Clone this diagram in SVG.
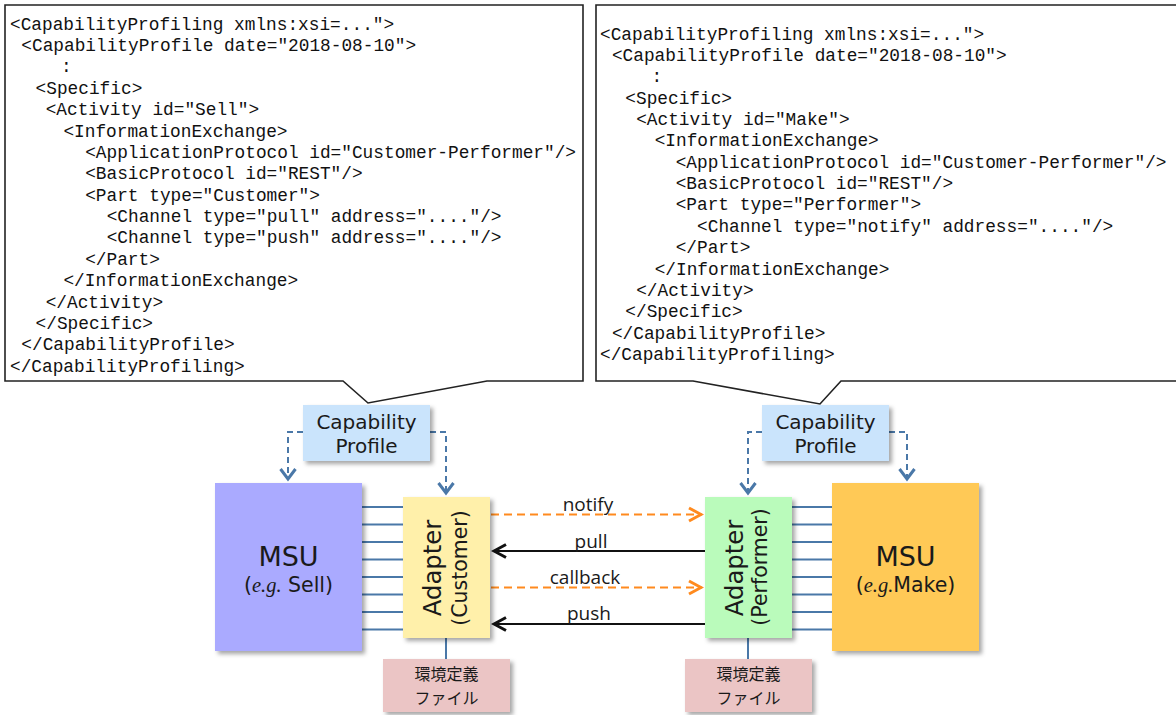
<svg xmlns="http://www.w3.org/2000/svg" width="1176" height="715" viewBox="0 0 1176 715">
<style>
.code{font-family:"Liberation Mono","Courier New",monospace;font-size:17.8px;fill:#111;}
.callout{fill:#fff;stroke:#222;stroke-width:1.6;}
.sans{font-family:"DejaVu Sans",Verdana,sans-serif;fill:#1a1a1a;}
.lbl{font-family:"Open Sans","Liberation Sans",sans-serif;font-size:19px;fill:#1a1a1a;text-anchor:middle;}
.eg{font-family:"Liberation Serif","Times New Roman",serif;font-style:italic;}
.cjk{font-family:"Noto Sans CJK JP","Noto Sans CJK SC",sans-serif;font-size:16px;fill:#1a1a1a;text-anchor:middle;}
.tie{stroke:#4A78A8;stroke-width:2;}
.dashb{fill:none;stroke:#4A78A8;stroke-width:2;stroke-dasharray:6,4;}
.dasho{fill:none;stroke:#FF8A1E;stroke-width:2;stroke-dasharray:8,5;}
.solid{fill:none;stroke:#111;stroke-width:2;}
</style>
<defs>
<filter id="sh" x="-10%" y="-10%" width="130%" height="130%">
<feDropShadow dx="3" dy="3" stdDeviation="2" flood-color="#000" flood-opacity="0.35"/>
</filter>
<marker id="mb" markerUnits="userSpaceOnUse" viewBox="-14 -10 16 20" refX="0" refY="0" markerWidth="16" markerHeight="20" orient="auto">
<path d="M-11,-7.5 L-1,0 L-11,7.5" fill="none" stroke="#4A78A8" stroke-width="3"/>
</marker>
<marker id="mo" markerUnits="userSpaceOnUse" viewBox="-16 -10 18 20" refX="0" refY="0" markerWidth="18" markerHeight="20" orient="auto">
<path d="M-13,-6.5 L-1,0 L-13,6.5" fill="none" stroke="#FF8A1E" stroke-width="3"/>
</marker>
<marker id="mk" markerUnits="userSpaceOnUse" viewBox="-16 -10 18 20" refX="0" refY="0" markerWidth="18" markerHeight="20" orient="auto">
<path d="M-13,-6.5 L-1,0 L-13,6.5" fill="none" stroke="#111" stroke-width="3"/>
</marker>
</defs>
<rect width="1176" height="715" fill="#fff"/>

<g id="callout-sell">
<path class="callout" d="M5,5 H583 V381 H487 L368,403 L343,381 H5 Z"/>
<text class="code" x="10" y="29.5">&lt;CapabilityProfiling xmlns:xsi=..."&gt;</text>
<text class="code" x="21.3" y="50.9">&lt;CapabilityProfile date="2018-08-10"&gt;</text>
<text class="code" x="61" y="72.3">:</text>
<text class="code" x="35.6" y="93.7">&lt;Specific&gt;</text>
<text class="code" x="45.7" y="115.1">&lt;Activity id="Sell"&gt;</text>
<text class="code" x="63.4" y="136.5">&lt;InformationExchange&gt;</text>
<text class="code" x="85.2" y="157.8">&lt;ApplicationProtocol id="Customer-Performer"/&gt;</text>
<text class="code" x="85.2" y="179.2">&lt;BasicProtocol id="REST"/&gt;</text>
<text class="code" x="85.2" y="200.6">&lt;Part type="Customer"&gt;</text>
<text class="code" x="106.7" y="222">&lt;Channel type="pull" address="...."/&gt;</text>
<text class="code" x="106.7" y="243.4">&lt;Channel type="push" address="...."/&gt;</text>
<text class="code" x="85.2" y="264.8">&lt;/Part&gt;</text>
<text class="code" x="63.4" y="286.2">&lt;/InformationExchange&gt;</text>
<text class="code" x="45.7" y="307.6">&lt;/Activity&gt;</text>
<text class="code" x="35.6" y="329">&lt;/Specific&gt;</text>
<text class="code" x="21.3" y="350.4">&lt;/CapabilityProfile&gt;</text>
<text class="code" x="10" y="371.8">&lt;/CapabilityProfiling&gt;</text>
</g>

<g id="callout-make">
<path class="callout" d="M596,5 H1182 V381 H841 L820,404 L693,381 H596 Z"/>
<text class="code" x="600" y="39.5">&lt;CapabilityProfiling xmlns:xsi=..."&gt;</text>
<text class="code" x="611.9" y="60.9">&lt;CapabilityProfile date="2018-08-10"&gt;</text>
<text class="code" x="651.5" y="82.2">:</text>
<text class="code" x="625.3" y="103.6">&lt;Specific&gt;</text>
<text class="code" x="636.2" y="125">&lt;Activity id="Make"&gt;</text>
<text class="code" x="654.7" y="146.3">&lt;InformationExchange&gt;</text>
<text class="code" x="675.7" y="167.7">&lt;ApplicationProtocol id="Customer-Performer"/&gt;</text>
<text class="code" x="675.7" y="189.1">&lt;BasicProtocol id="REST"/&gt;</text>
<text class="code" x="675.7" y="210.4">&lt;Part type="Performer"&gt;</text>
<text class="code" x="697.1" y="231.8">&lt;Channel type="notify" address="...."/&gt;</text>
<text class="code" x="675.7" y="253.2">&lt;/Part&gt;</text>
<text class="code" x="654.7" y="274.5">&lt;/InformationExchange&gt;</text>
<text class="code" x="636.2" y="295.9">&lt;/Activity&gt;</text>
<text class="code" x="625.3" y="317.3">&lt;/Specific&gt;</text>
<text class="code" x="611.9" y="338.6">&lt;/CapabilityProfile&gt;</text>
<text class="code" x="600" y="360">&lt;/CapabilityProfiling&gt;</text>
</g>

<g id="connectors">
<path class="dashb" d="M303,432 H288 V480" marker-end="url(#mb)"/>
<path class="dashb" d="M430,432 H446 V494" marker-end="url(#mb)"/>
<path class="dashb" d="M762,432 H748 V494" marker-end="url(#mb)"/>
<path class="dashb" d="M889,432 H907 V480" marker-end="url(#mb)"/>
<g>
<line class="tie" x1="362" y1="507" x2="403" y2="507"/>
<line class="tie" x1="362" y1="524.5" x2="403" y2="524.5"/>
<line class="tie" x1="362" y1="542" x2="403" y2="542"/>
<line class="tie" x1="362" y1="559.5" x2="403" y2="559.5"/>
<line class="tie" x1="362" y1="577" x2="403" y2="577"/>
<line class="tie" x1="362" y1="594.5" x2="403" y2="594.5"/>
<line class="tie" x1="362" y1="612" x2="403" y2="612"/>
<line class="tie" x1="362" y1="629.5" x2="403" y2="629.5"/>
<line class="tie" x1="792" y1="507" x2="832" y2="507"/>
<line class="tie" x1="792" y1="524.5" x2="832" y2="524.5"/>
<line class="tie" x1="792" y1="542" x2="832" y2="542"/>
<line class="tie" x1="792" y1="559.5" x2="832" y2="559.5"/>
<line class="tie" x1="792" y1="577" x2="832" y2="577"/>
<line class="tie" x1="792" y1="594.5" x2="832" y2="594.5"/>
<line class="tie" x1="792" y1="612" x2="832" y2="612"/>
<line class="tie" x1="792" y1="629.5" x2="832" y2="629.5"/>
<line class="tie" x1="446" y1="638" x2="446" y2="659"/>
<line class="tie" x1="748" y1="638" x2="748" y2="659"/>
</g>
<path class="dasho" d="M491,514.5 H702" marker-end="url(#mo)"/>
<path class="solid" d="M705,551 H493" marker-end="url(#mk)"/>
<path class="dasho" d="M491,587.5 H702" marker-end="url(#mo)"/>
<path class="solid" d="M705,624 H493" marker-end="url(#mk)"/>
<text class="lbl" x="588" y="511">notify</text>
<text class="lbl" x="591" y="547.5">pull</text>
<text class="lbl" x="585" y="583.5">callback</text>
<text class="lbl" x="589" y="620">push</text>
</g>

<g id="cp-left">
<rect x="303" y="405" width="127" height="56" fill="#CAE4FC" filter="url(#sh)"/>
<text class="sans" x="366.5" y="429" font-size="20" text-anchor="middle">Capability</text>
<text class="sans" x="366.5" y="453" font-size="20" text-anchor="middle">Profile</text>
</g>
<g id="cp-right">
<rect x="762" y="405" width="127" height="56" fill="#CAE4FC" filter="url(#sh)"/>
<text class="sans" x="825.5" y="429" font-size="20" text-anchor="middle">Capability</text>
<text class="sans" x="825.5" y="453" font-size="20" text-anchor="middle">Profile</text>
</g>

<g id="msu-sell">
<rect x="215" y="483" width="147" height="168" fill="#AAAAFF" filter="url(#sh)"/>
<text class="sans" x="288.5" y="566" font-size="27" text-anchor="middle">MSU</text>
<text class="sans" x="288.5" y="592" font-size="20.5" text-anchor="middle">(<tspan class="eg">e.g.</tspan> Sell)</text>
</g>
<g id="adapter-customer">
<rect x="403" y="497" width="87" height="141" fill="#FFF0AA" filter="url(#sh)"/>
<text class="sans" transform="translate(441,568) rotate(-90)" font-size="24.3" text-anchor="middle">Adapter</text>
<text class="sans" transform="translate(467,568) rotate(-90)" font-size="20.5" text-anchor="middle">(Customer)</text>
</g>
<g id="adapter-performer">
<rect x="705" y="497" width="87" height="141" fill="#BAFBBB" filter="url(#sh)"/>
<text class="sans" transform="translate(743,568) rotate(-90)" font-size="24.3" text-anchor="middle">Adapter</text>
<text class="sans" transform="translate(767,567) rotate(-90)" font-size="20.5" text-anchor="middle">(Performer)</text>
</g>
<g id="msu-make">
<rect x="832" y="483" width="147" height="168" fill="#FFC957" filter="url(#sh)"/>
<text class="sans" x="905.5" y="566" font-size="27" text-anchor="middle">MSU</text>
<text class="sans" x="905.5" y="592" font-size="20.5" text-anchor="middle">(<tspan class="eg">e.g.</tspan>Make)</text>
</g>
<g id="env-left">
<rect x="383" y="659" width="127" height="53" fill="#EBC5C5" filter="url(#sh)"/>
<text class="cjk"><tspan x="446.5" y="680">環境定義</tspan><tspan x="446.5" y="703.5">ファイル</tspan></text>
</g>
<g id="env-right">
<rect x="685" y="659" width="127" height="53" fill="#EBC5C5" filter="url(#sh)"/>
<text class="cjk"><tspan x="748.5" y="680">環境定義</tspan><tspan x="748.5" y="703.5">ファイル</tspan></text>
</g>
</svg>
